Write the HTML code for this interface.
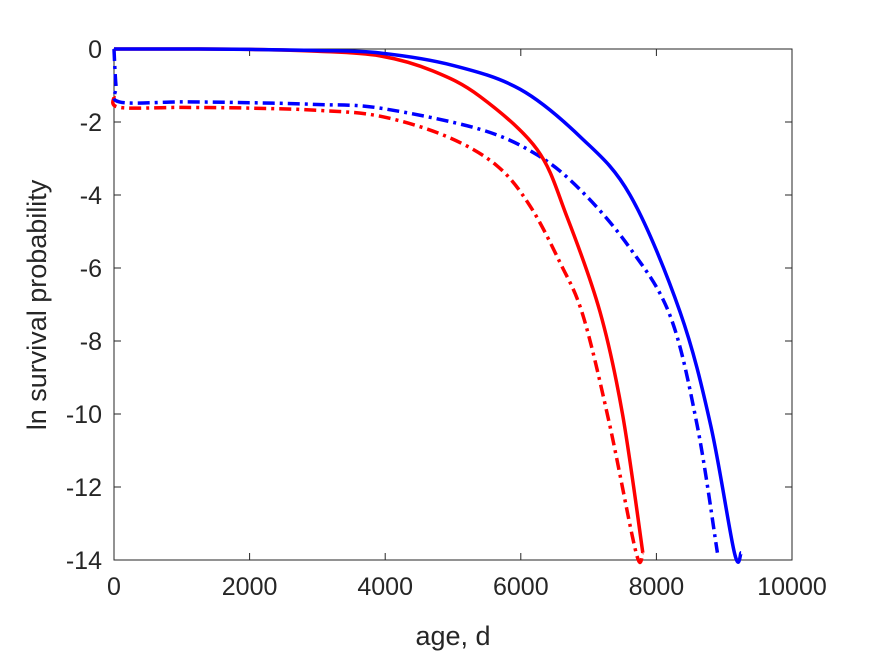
<!DOCTYPE html>
<html><head><meta charset="utf-8"><style>
body{margin:0;background:#fff;width:875px;height:656px;overflow:hidden}
svg{font-family:"Liberation Sans",Arial,sans-serif}
</style></head><body>
<svg id="chart" width="875" height="656">
<g id="axes"></g>
<g id="series"></g>
<text x="453" y="645" font-size="27" fill="#262626" text-anchor="middle">age, d</text>
<text transform="translate(46,305) rotate(-90)" font-size="27" fill="#262626" text-anchor="middle">ln survival probability</text>
</svg>
<script>
const xTicks=[0,2000,4000,6000,8000,10000];
const yTicks=[0,-2,-4,-6,-8,-10,-12,-14];
const blueSolidT=[0,1000,2000,3000,3924,5000,5988,6873,7611,8348,8800,9150,9250];
const blueSolidY=[0,0,-0.01,-0.04,-0.11,-0.45,-1.1,-2.4,-4.0,-7.2,-10.3,-13.8,-13.8];
const redSolidT=[0,1000,2000,3000,3924,4700,5398,6239,6681,7168,7500,7800];
const redSolidY=[0,0,-0.01,-0.06,-0.19,-0.6,-1.3,-2.75,-4.6,-7.2,-10.0,-13.8];
const blueDashT=[0,30,80,1000,2000,3000,3924,5398,6239,6873,7588,8201,8600,8900];
const blueDashY=[0,-1.0,-1.45,-1.45,-1.47,-1.52,-1.62,-2.2,-2.9,-3.85,-5.4,-7.3,-10.3,-13.8];
const redDashT=[0,80,1000,2000,3000,3924,4912,5649,6136,6578,6917,7300,7700,7800];
const redDashY=[-1.3,-1.6,-1.6,-1.62,-1.68,-1.84,-2.4,-3.2,-4.3,-5.85,-7.3,-10.2,-13.8,-13.8];
const X0=114,X1=792,Y0=49,Y1=560;
const sx=t=>X0+(t-0)/(10000-0)*(X1-X0);
const sy=v=>Y0+(0-v)/(0-(-14))*(Y1-Y0);
const NS="http://www.w3.org/2000/svg";
const ax=document.getElementById('axes'),se=document.getElementById('series');
function mk(tag,attrs,parent){const e=document.createElementNS(NS,tag);for(const k in attrs)e.setAttribute(k,attrs[k]);parent.appendChild(e);return e;}
const frame=mk('rect',{x:X0,y:Y0,width:X1-X0,height:Y1-Y0,fill:'none',stroke:'#262626','stroke-width':1},ax);


xTicks.forEach(t=>{
  const l=mk('path',{d:`M${sx(t)},${Y1}v-7M${sx(t)},${Y0}v7`,stroke:'#262626'},ax);
  
  
  const tx=mk('text',{x:sx(t),y:Y1+35,'font-size':25,fill:'#262626','text-anchor':'middle'},ax);
  tx.textContent=t;
  
  
});
yTicks.forEach(v=>{
  const l=mk('path',{d:`M${X0},${sy(v)}h7M${X1},${sy(v)}h-7`,stroke:'#262626'},ax);
  
  
  const tx=mk('text',{x:X0-12,y:sy(v)+9,'font-size':25,fill:'#262626','text-anchor':'end'},ax);
  tx.textContent=v;
  
  
});
function line(T,Y,color,dash,name){
  const P=T.map((t,i)=>[sx(t),sy(Y[i])]);
  let d='M'+P[0][0].toFixed(1)+','+P[0][1].toFixed(1);
  for(let i=0;i<P.length-1;i++){
    const p0=P[Math.max(i-1,0)],p1=P[i],p2=P[i+1],p3=P[Math.min(i+2,P.length-1)];
    const k=1/6;
    const c1=[p1[0]+(p2[0]-p0[0])*k,p1[1]+(p2[1]-p0[1])*k];
    const c2=[p2[0]-(p3[0]-p1[0])*k,p2[1]-(p3[1]-p1[1])*k];
    d+=`C${c1[0].toFixed(1)},${c1[1].toFixed(1)} ${c2[0].toFixed(1)},${c2[1].toFixed(1)} ${p2[0].toFixed(1)},${p2[1].toFixed(1)}`;
  }
  const p=mk('path',{d:d,fill:'none',stroke:color,'stroke-width':3.5,'stroke-dasharray':dash,'stroke-linejoin':'round'},se);
  
  
}
line(redDashT,redDashY,'#ff0000','12,5,3,5','red-dashdot-line');
line(blueDashT,blueDashY,'#0000ff','12,5,3,5','blue-dashdot-line');
line(redSolidT,redSolidY,'#ff0000','none','red-solid-line');
line(blueSolidT,blueSolidY,'#0000ff','none','blue-solid-line');
</script>
</body></html>
